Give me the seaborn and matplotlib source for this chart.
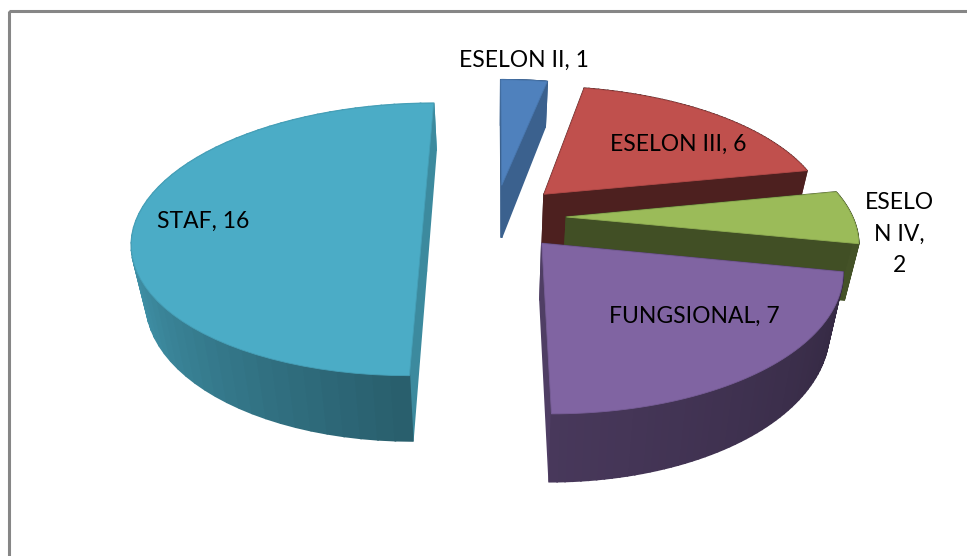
import numpy as np
import pandas as pd
import seaborn as sns
import matplotlib.pyplot as plt
from matplotlib.patches import Rectangle

# Chart data
labels = ['ESELON II', 'ESELON III', 'ESELON IV', 'FUNGSIONAL', 'STAF']
values = [1, 6, 2, 7, 16]
label_text = ['ESELON II, 1', 'ESELON III, 6', 'ESELO\nN IV,\n2', 'FUNGSIONAL, 7', 'STAF, 16']

sns.set_theme(style='white')
plt.rcParams['font.family'] = ['Lato', 'DejaVu Sans']

colors = sns.color_palette(['#4F81BD', '#C0504D', '#9BBB59', '#8064A2', '#4BACC6'])
# wall shading at the start and the end of each slice
wall_start = [0.75, 0.40, 0.42, 0.40, 0.55]
wall_end = [0.75, 0.40, 0.44, 0.56, 1.30]
cut_shade = [0.75, 0.40, 0.42, 0.62, 0.80]
label_pos = [(524, 60), (678, 144), (899, 234), (694, 316), (203, 221)]
draw_order = [0, 1, 2, 4, 3]

# Camera settings for the 3D look
cx, cy = 495, 217
fx, fy = 286, 132.5
persp = 0.165
depth = 54.5
explode = 0.25

df = pd.DataFrame({'label': labels, 'value': values})
df['end'] = df['value'].cumsum() / df['value'].sum() * 2 * np.pi
df['start'] = df['end'] - df['value'] / df['value'].sum() * 2 * np.pi


def project(x, y, z):
    # z = 0 is the top face, z = 1 the bottom of the wall
    s = 1 / (1 + persp * y)
    px = cx + fx * x * s * (1 - 0.04 * z)
    py = cy + s * (-fy * y + depth * z)
    return px, py


def shade(col, k):
    return tuple(c * k for c in col)


fig = plt.figure(figsize=(9.67, 5.56), dpi=100)
ax = fig.add_axes([0, 0, 1, 1])
ax.set_xlim(0, 967)
ax.set_ylim(556, 0)
ax.axis('off')

# chart frame, right and bottom sides run off the picture
ax.add_patch(Rectangle((9, 11), 1000, 600, fill=False, ec='#868686', lw=2.2))

for i in draw_order:
    row = df.iloc[i]
    mid = (row['start'] + row['end']) / 2
    ox, oy = explode * np.sin(mid), explode * np.cos(mid)
    th = np.linspace(row['start'], row['end'], 60)
    ax_x = ox + np.sin(th)
    ax_y = oy + np.cos(th)
    col = colors[i]

    faces = []
    # outer wall strips
    for j in range(len(th) - 1):
        a = project(ax_x[j], ax_y[j], 0)
        b = project(ax_x[j + 1], ax_y[j + 1], 0)
        c = project(ax_x[j + 1], ax_y[j + 1], 1)
        d = project(ax_x[j], ax_y[j], 1)
        k = wall_start[i] + (wall_end[i] - wall_start[i]) * j / (len(th) - 2)
        faces.append(((ax_y[j] + ax_y[j + 1]) / 2, [a, b, c, d], shade(col, min(k, 0.92))))
    # the two cut faces
    for e in (0, -1):
        a = project(ox, oy, 0)
        b = project(ax_x[e], ax_y[e], 0)
        c = project(ax_x[e], ax_y[e], 1)
        d = project(ox, oy, 1)
        faces.append(((oy + ax_y[e]) / 2, [a, b, c, d], shade(col, cut_shade[i])))

    # back faces first
    faces.sort(key=lambda f: -f[0])
    for _, pts, fc in faces:
        xs, ys = zip(*pts)
        ax.fill(xs, ys, fc=fc, ec=fc, lw=1.2, zorder=3 + draw_order.index(i))

    # top face
    px, py = project(np.r_[ox, ax_x], np.r_[oy, ax_y], 0)
    ax.fill(px, py, fc=col, ec=shade(col, 0.93), lw=0.6, zorder=3 + draw_order.index(i))

for txt, pos in zip(label_text, label_pos):
    ax.text(pos[0], pos[1], txt, ha='center', va='center', fontsize=16.5, color='black',
            linespacing=1.6, zorder=20)

fig.savefig('out.png', dpi=100)
